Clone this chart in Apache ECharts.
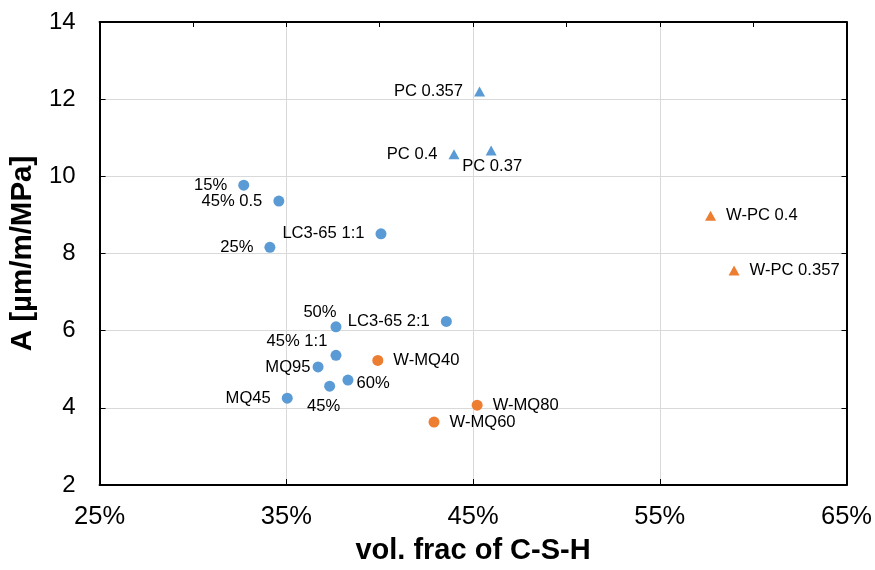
<!DOCTYPE html>
<html>
<head>
<meta charset="utf-8">
<script src="https://cdn.jsdelivr.net/npm/echarts@6/dist/echarts.min.js"></script>
<style>
  html, body { margin: 0; padding: 0; background: #fff; }
  #chart { width: 875px; height: 570px; }
</style>
</head>
<body>
<div id="chart"></div>
<script>
// Cement paste mixes: volume fraction of C-S-H (%) against A [µm/m/MPa]

const blueCircleNames = ['15%', '45% 0.5', 'LC3-65 1:1', '25%', 'LC3-65 2:1', '50%', '45% 1:1', 'MQ95', '60%', '45%', 'MQ45'];
const blueCircleX = [32.72, 34.60, 40.07, 34.12, 43.57, 37.66, 37.66, 36.70, 38.30, 37.32, 35.05];
const blueCircleY = [9.77, 9.36, 8.51, 8.16, 6.24, 6.10, 5.36, 5.06, 4.72, 4.56, 4.25];

const orangeCircleNames = ['W-MQ40', 'W-MQ80', 'W-MQ60'];
const orangeCircleX = [39.90, 45.22, 42.91];
const orangeCircleY = [5.23, 4.07, 3.63];

const blueTriangleNames = ['PC 0.357', 'PC 0.4', 'PC 0.37'];
const blueTriangleX = [45.35, 43.98, 45.97];
const blueTriangleY = [12.20, 10.57, 10.67];

const orangeTriangleNames = ['W-PC 0.4', 'W-PC 0.357'];
const orangeTriangleX = [57.72, 58.98];
const orangeTriangleY = [8.98, 7.56];

// axis ranges and tick steps
const xRange = [25, 65];
const xStep = 10;
const yRange = [2, 14];
const yStep = 2;

const BLUE = '#5B9BD5';
const ORANGE = '#ED7D31';
const FONT = '"Liberation Sans", Arial, sans-serif';

// where each point's label sits relative to its marker
const labelPlacement = {
  '50%':     { position: 'top', distance: 0, offset: [-16, 0] },
  '45% 1:1': { position: 'top', distance: 0, offset: [-39, 0] },
  '45%':     { position: 'bottom', distance: 6, offset: [-6, 0] },
  'PC 0.37': { position: 'bottom', distance: 2, offset: [1, 0] },
  '60%':     { position: 'right', distance: 3, offset: [0, 3] },
  'MQ95':    { position: 'left', distance: 2 }
};

function buildPoints(names, xs, ys, defaultSide) {
  return names.map((name, i) => {
    const place = labelPlacement[name] ||
      { position: defaultSide, distance: defaultSide === 'left' ? 11 : 10 };
    return {
      name: name,
      value: [xs[i], ys[i]],
      label: Object.assign({ show: true, formatter: '{b}' }, place)
    };
  });
}

const labelStyle = { color: '#000', fontSize: 16.6, fontFamily: FONT };

function scatter(name, data, color, symbol, size) {
  return {
    name: name,
    type: 'scatter',
    xAxisIndex: 0,
    yAxisIndex: 0,
    symbol: symbol,
    symbolSize: size,
    itemStyle: { color: color, opacity: 1 },
    label: labelStyle,
    emphasis: { disabled: true },
    data: data
  };
}

const frameLine = { show: true, onZero: false, lineStyle: { color: '#000', width: 2 } };

const chart = echarts.init(document.getElementById('chart'), null, { renderer: 'canvas' });

chart.setOption({
  animation: false,
  backgroundColor: '#fff',
  textStyle: { fontFamily: FONT },
  grid: { left: 98, right: 26, top: 22, bottom: 83, containLabel: false },
  xAxis: [
    {
      type: 'value',
      position: 'bottom',
      min: xRange[0], max: xRange[1], interval: xStep,
      axisLine: frameLine,
      axisTick: { show: true, inside: true, length: 6, lineStyle: { color: '#000', width: 1 } },
      splitLine: { show: true, lineStyle: { color: '#d9d9d9', width: 1 } },
      axisLabel: {
        show: true, margin: 19, fontSize: 25.5, color: '#000', fontFamily: FONT,
        formatter: v => v + '%'
      },
      name: 'vol. frac of C-S-H',
      nameLocation: 'middle',
      nameGap: 51,
      nameTextStyle: { fontSize: 29, fontWeight: 'bold', color: '#000', fontFamily: FONT }
    },
    {
      type: 'value',
      position: 'top',
      min: xRange[0], max: xRange[1], interval: xStep / 2,
      axisLine: frameLine,
      axisTick: { show: true, inside: true, length: 5, lineStyle: { color: '#000', width: 1 } },
      splitLine: { show: false },
      axisLabel: { show: false }
    }
  ],
  yAxis: [
    {
      type: 'value',
      position: 'left',
      min: yRange[0], max: yRange[1], interval: yStep,
      axisLine: frameLine,
      axisTick: { show: true, inside: true, length: 6, lineStyle: { color: '#000', width: 1 } },
      splitLine: { show: true, lineStyle: { color: '#d9d9d9', width: 1 } },
      axisLabel: { show: true, margin: 24, fontSize: 24, color: '#000', fontFamily: FONT },
      name: 'A [µm/m/MPa]',
      nameLocation: 'middle',
      nameGap: 55,
      nameRotate: 90,
      nameTextStyle: { fontSize: 29.5, fontWeight: 'bold', color: '#000', fontFamily: FONT }
    },
    {
      type: 'value',
      position: 'right',
      min: yRange[0], max: yRange[1], interval: yStep,
      axisLine: frameLine,
      axisTick: { show: true, inside: true, length: 5, lineStyle: { color: '#000', width: 1 } },
      splitLine: { show: false },
      axisLabel: { show: false }
    }
  ],
  series: [
    scatter('blue circles', buildPoints(blueCircleNames, blueCircleX, blueCircleY, 'left'), BLUE, 'circle', 11),
    scatter('orange circles', buildPoints(orangeCircleNames, orangeCircleX, orangeCircleY, 'right'), ORANGE, 'circle', 11),
    scatter('blue triangles', buildPoints(blueTriangleNames, blueTriangleX, blueTriangleY, 'left'), BLUE, 'triangle', [11, 10]),
    scatter('orange triangles', buildPoints(orangeTriangleNames, orangeTriangleX, orangeTriangleY, 'right'), ORANGE, 'triangle', [11, 10])
  ]
});
</script>
</body>
</html>
